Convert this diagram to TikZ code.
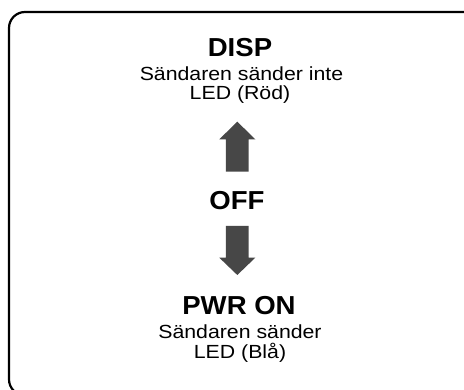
\documentclass[tikz,border=0pt]{standalone}
\usepackage{fontspec}
\setmainfont{Liberation Sans}[FakeStretch=1.12, BoldFeatures={FakeStretch=1.06}]
\begin{document}
\begin{tikzpicture}[x=1pt,y=-1pt,
  title/.style={font=\fontsize{26}{26}\selectfont\bfseries, inner sep=0pt, anchor=base},
  body/.style={font=\fontsize{19}{20}\selectfont, inner sep=0pt, anchor=base},
  blockarrow/.style={fill=black!72, draw=none}]
\useasboundingbox (0,0) rectangle (464,390);
\clip (0,0) rectangle (464,390);
\fill[white] (0,0) rectangle (464,390);
% frame
\draw[line width=2.2pt, rounded corners=16pt] (9,12) rectangle (490,395.4);
% top block
\node[title] (disp) at (240,56.7) {DISP};
\node[body] (dispa) at (241.5,80.7) {Sändaren sänder inte};
\node[body] (dispb) at (240,100) {LED (Röd)};
% middle
\node[title] (off) at (237,209.5) {OFF};
% bottom block
\node[title] (pwr) at (239,314.3) {PWR ON};
\node[body] (pwra) at (240,338.3) {Sändaren sänder};
\node[body] (pwrb) at (240,358.5) {LED (Blå)};
% arrows
\coordinate (upbase) at (237.3,171.7);
\coordinate (uptip) at (237.3,121.7);
\coordinate (dnbase) at (237.3,226);
\coordinate (dntip) at (237.3,275);
\fill[blockarrow] (upbase) ++(-11.4,0) -- ++(0,-32.4) -- ++(-6.6,0) -- (uptip) -- ++(18,17.6) -- ++(-6.6,0) -- ++(0,32.4) -- cycle;
\fill[blockarrow] (dnbase) ++(-11.4,0) -- ++(0,31.7) -- ++(-6.6,0) -- (dntip) -- ++(18,-17.3) -- ++(-6.6,0) -- ++(0,-31.7) -- cycle;
\end{tikzpicture}
\end{document}
